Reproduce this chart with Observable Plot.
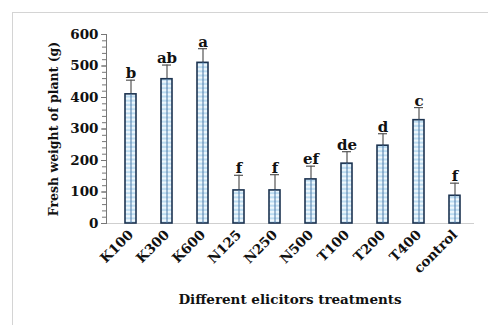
<!DOCTYPE html>
<html>
<head>
<meta charset="utf-8">
<script src="https://cdn.jsdelivr.net/npm/d3@7"></script>
<script src="https://cdn.jsdelivr.net/npm/@observablehq/plot@0.6"></script>
<style>
  html, body { margin: 0; padding: 0; background: #fff; }
  #wrap { position: relative; width: 488px; height: 325px; overflow: hidden; }
  #border { position: absolute; left: 12px; top: 12px; width: 490px; height: 330px;
            border-left: 1px solid #d4d4d4; border-top: 1px solid #d4d4d4; }
  #chart { position: absolute; left: 0; top: 0; }
</style>
</head>
<body>
<div id="wrap"><div id="border"></div><div id="chart"></div></div>
<script>
// Treatments and measured fresh weight (g), with standard error and significance letters
const treatments = ["K100", "K300", "K600", "N125", "N250", "N500", "T100", "T200", "T400", "control"];
const freshWeight = [410, 458, 510, 105, 105, 140, 190, 247, 328, 88];
const stdError = [45, 45, 45, 48, 50, 42, 38, 38, 40, 40];
const letters = ["b", "ab", "a", "f", "f", "ef", "de", "d", "c", "f"];
const yTicks = [0, 100, 200, 300, 400, 500, 600];

const rows = treatments.map((t, i) => ({
  treatment: t, weight: freshWeight[i], se: stdError[i], top: freshWeight[i] + stdError[i], letter: letters[i]
}));

const chart = Plot.plot({
  width: 488,
  height: 325,
  marginLeft: 106,
  marginRight: 15,
  marginTop: 34,
  marginBottom: 102,
  style: { fontFamily: "'DejaVu Serif', serif", fontWeight: "bold", fontSize: "13px", color: "#111", background: "transparent" },
  x: { domain: treatments, paddingInner: 0.7, paddingOuter: 0.35, insetLeft: 6, label: null },
  y: { domain: [0, 600], label: null },
  marks: [
    Plot.frame({ anchor: "bottom", stroke: "#cfcfcf" }),
    Plot.frame({ anchor: "left", stroke: "#777" }),
    Plot.axisY({ ticks: d3.range(0, 601, 20), tickSize: 4, text: null, label: null, stroke: "#777" }),
    Plot.axisY({ ticks: yTicks, tickSize: 5, tickPadding: 3, stroke: "#777", fontSize: 13.5,
      label: "Fresh weight of plant (g)", labelAnchor: "center", labelArrow: "none", labelOffset: 57 }),
    Plot.axisX({ tickSize: 0, tickRotate: -45, tickPadding: 9, fontSize: 13.5,
      label: "Different elicitors treatments", labelAnchor: "center", labelArrow: "none", labelOffset: 80 }),
    Plot.ruleX(rows, { x: "treatment", y1: "weight", y2: "top", stroke: "#555", strokeWidth: 1.2 }),
    Plot.tickY(rows, { x: "treatment", y: "top", stroke: "#555", strokeWidth: 1.2, insetLeft: 1, insetRight: 1 }),
    Plot.barY(rows, { x: "treatment", y: "weight", fill: "#c4e1f3", stroke: "#1c3350", strokeWidth: 1.6 }),
    Plot.ruleX(rows, { x: "treatment", y1: 0, y2: "weight", stroke: "#4d78a6", strokeWidth: 1 }),
    Plot.text(rows, { x: "treatment", y: "top", text: "letter", dy: -2, lineAnchor: "bottom",
      fontSize: 15, fontWeight: "bold", fill: "#111" })
  ]
});

// Striped fill for the bars
const svg = d3.select(chart);
const defs = svg.insert("defs", ":first-child");
const pat = defs.append("pattern").attr("id", "stripes").attr("patternUnits", "userSpaceOnUse")
  .attr("width", 8).attr("height", 4.2);
pat.append("rect").attr("width", 8).attr("height", 4.2).attr("fill", "#bcdcf1");
pat.append("rect").attr("y", 1).attr("width", 8).attr("height", 2).attr("fill", "#f3fafe");
svg.selectAll("g[aria-label=bar] rect").attr("fill", "url(#stripes)");
// Axis title sizes
svg.selectAll("g[aria-label='y-axis label'] text").attr("font-size", 12.5);
svg.selectAll("g[aria-label='x-axis label'] text").attr("font-size", 13.5);

document.getElementById("chart").append(chart);
</script>
</body>
</html>
